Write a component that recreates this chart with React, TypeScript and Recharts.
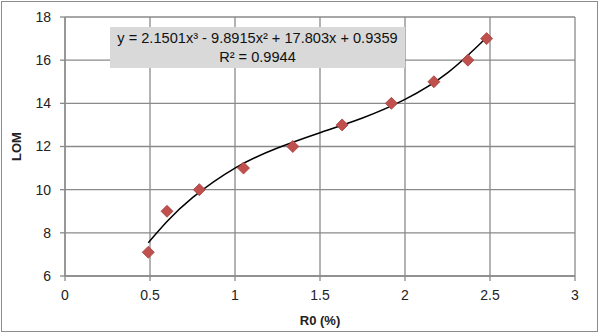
import React from "react";
import {
  ComposedChart,
  Line,
  Scatter,
  XAxis,
  YAxis,
  CartesianGrid,
} from "recharts";

// measured points (R0 %, LOM)
const r0 = [0.49, 0.6, 0.79, 1.05, 1.34, 1.63, 1.92, 2.17, 2.37, 2.48];
const lom = [7.1, 9, 10, 11, 12, 13, 14, 15, 16, 17];

// polynomial trendline
const trendX = [0.49, 0.6, 0.75, 1.0, 1.25, 1.5, 1.75, 2.0, 2.25, 2.48];
const trendY = [7.54, 8.52, 9.63, 11.0, 11.93, 12.64, 13.32, 14.18, 15.41, 17.05];

const xTicks = [0, 0.5, 1, 1.5, 2, 2.5, 3];
const yTicks = [6, 8, 10, 12, 14, 16, 18];

const equation = "y = 2.1501x³ - 9.8915x² + 17.803x + 0.9359";
const rSquared = "R² = 0.9944";

const points = r0.map((x, i) => ({ x, y: lom[i] }));
const trend = trendX.map((x, i) => ({ x, y: trendY[i] }));

const FONT = "'Liberation Sans', Arial, sans-serif";
const GRID = "#8a8a8a";

const Diamond = (props: any) => {
  const { cx, cy } = props;
  const r = 6;
  return (
    <polygon
      points={`${cx},${cy - r} ${cx + r},${cy} ${cx},${cy + r} ${cx - r},${cy}`}
      fill="#C0504D"
      stroke="#A8403D"
      strokeWidth={0.8}
    />
  );
};

export default function App() {
  const tick = { fill: "#222", fontSize: 14, fontFamily: FONT };
  return (
    <div style={{ position: "relative", width: 600, height: 333, background: "#fff" }}>
      <style>{`body{margin:0}`}</style>
      <div
        style={{
          position: "absolute",
          left: 1,
          top: 1,
          width: 597,
          height: 331,
          border: "1.5px solid #8c8c8c",
          boxSizing: "border-box",
        }}
      />
      <ComposedChart
        width={600}
        height={333}
        margin={{ top: 17, right: 25, bottom: 22, left: 25 }}
        style={{ position: "absolute", left: 0, top: 0 }}
      >
        <CartesianGrid stroke={GRID} strokeWidth={1.3} />
        <XAxis
          type="number"
          dataKey="x"
          domain={[0, 3]}
          ticks={xTicks}
          height={35}
          tick={tick}
          tickSize={5}
          tickMargin={9}
          axisLine={{ stroke: GRID, strokeWidth: 1.3 }}
          tickLine={{ stroke: GRID, strokeWidth: 1.3 }}
          label={{
            value: "R0 (%)",
            position: "insideBottom",
            offset: -14,
            style: { fontFamily: FONT, fontSize: 13, fontWeight: "bold", fill: "#222" },
          }}
        />
        <YAxis
          type="number"
          dataKey="y"
          domain={[6, 18]}
          ticks={yTicks}
          width={40}
          tick={tick}
          tickSize={5}
          tickMargin={9}
          axisLine={{ stroke: GRID, strokeWidth: 1.3 }}
          tickLine={{ stroke: GRID, strokeWidth: 1.3 }}
          label={{
            value: "LOM",
            angle: -90,
            position: "insideLeft",
            offset: -9,
            style: {
              fontFamily: FONT,
              fontSize: 13,
              fontWeight: "bold",
              fill: "#222",
              textAnchor: "middle",
            },
          }}
        />
        <Line
          data={trend}
          dataKey="y"
          type="natural"
          stroke="#000"
          strokeWidth={1.5}
          dot={false}
          activeDot={false}
          isAnimationActive={false}
        />
        <Scatter data={points} dataKey="y" shape={<Diamond />} isAnimationActive={false} />
      </ComposedChart>
      <div
        style={{
          position: "absolute",
          left: 110,
          top: 27,
          width: 295,
          height: 41,
          background: "#d9d9d9",
          fontFamily: FONT,
          fontSize: 14.6,
          color: "#111",
          textAlign: "center",
          lineHeight: "19px",
          paddingTop: 2,
          boxSizing: "border-box",
        }}
      >
        <div>{equation}</div>
        <div>{rSquared}</div>
      </div>
    </div>
  );
}
